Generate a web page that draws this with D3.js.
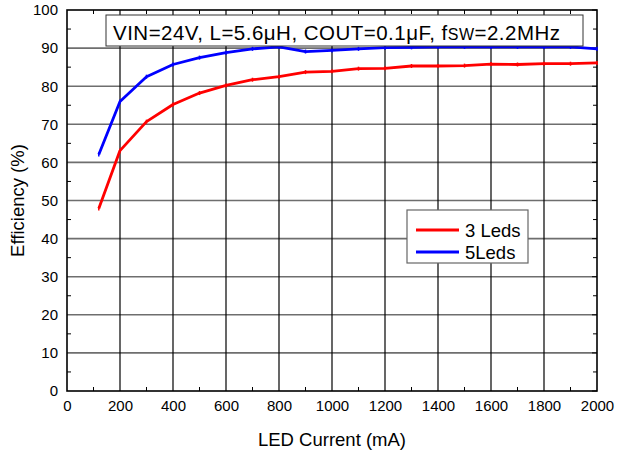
<!DOCTYPE html>
<html>
<head>
<meta charset="utf-8">
<script src="https://cdn.jsdelivr.net/npm/d3@7"></script>
<style>
  body { margin: 0; background: #fff; }
  svg { font-family: Arial, "Liberation Sans", sans-serif; }
</style>
</head>
<body>
<svg id="chart" width="630" height="454"></svg>
<script>
// LED current (mA)
const current = [120, 200, 300, 400, 500, 600, 700, 800, 900, 1000, 1100, 1200, 1300, 1400, 1500, 1600, 1700, 1800, 1900, 2000];
// efficiency (%)
const leds3 = [47.9, 63.1, 70.7, 75.2, 78.2, 80.2, 81.7, 82.5, 83.7, 83.9, 84.6, 84.7, 85.3, 85.3, 85.4, 85.8, 85.7, 85.9, 85.9, 86.1];
const leds5 = [62.1, 76.0, 82.5, 85.7, 87.5, 88.8, 89.8, 90.3, 89.1, 89.4, 89.8, 90.1, 90.2, 90.3, 90.3, 90.3, 90.3, 90.3, 90.3, 89.8];
const xTicks = [0, 200, 400, 600, 800, 1000, 1200, 1400, 1600, 1800, 2000];
const yTicks = [0, 10, 20, 30, 40, 50, 60, 70, 80, 90, 100];

const series = [
  { name: "3 Leds", color: "#ff0000", values: leds3 },
  { name: "5Leds", color: "#0000ff", values: leds5 }
];

const svg = d3.select("#chart");
const pL = 67, pR = 597, pT = 10, pB = 391;
const FONT = "Arial, 'Liberation Sans', sans-serif";

const x = d3.scaleLinear().domain([0, 2000]).range([pL, pR]);
const y = d3.scaleLinear().domain([0, 100]).range([pB, pT]);

// grid
svg.append("g").selectAll("line")
  .data(yTicks.slice(1, -1))
  .join("line")
  .attr("x1", pL).attr("x2", pR)
  .attr("y1", d => y(d)).attr("y2", d => y(d))
  .attr("stroke", "#6e6e6e").attr("stroke-width", 1.6);

svg.append("g").selectAll("line")
  .data(xTicks.slice(1, -1))
  .join("line")
  .attr("y1", pT).attr("y2", pB)
  .attr("x1", d => x(d)).attr("x2", d => x(d))
  .attr("stroke", "#000").attr("stroke-width", 1.2);

// minor ticks on all four sides, pointing inward
const xMinor = d3.range(100, 2000, 200);
const yMinor = d3.range(5, 100, 10);
const tk = svg.append("g").attr("stroke", "#000").attr("stroke-width", 1);
xMinor.forEach(v => {
  tk.append("line").attr("x1", x(v)).attr("x2", x(v)).attr("y1", pB).attr("y2", pB - 4);
  tk.append("line").attr("x1", x(v)).attr("x2", x(v)).attr("y1", pT).attr("y2", pT + 4);
});
yMinor.forEach(v => {
  tk.append("line").attr("y1", y(v)).attr("y2", y(v)).attr("x1", pL).attr("x2", pL + 4);
  tk.append("line").attr("y1", y(v)).attr("y2", y(v)).attr("x1", pR).attr("x2", pR - 4);
});
yTicks.forEach(v => {
  tk.append("line").attr("y1", y(v)).attr("y2", y(v)).attr("x1", pR).attr("x2", pR - 5);
});

// frame
svg.append("rect")
  .attr("x", pL).attr("y", pT)
  .attr("width", pR - pL).attr("height", pB - pT)
  .attr("fill", "none").attr("stroke", "#000").attr("stroke-width", 1.6);

// axis labels
svg.append("g")
  .attr("transform", `translate(0,${pB})`)
  .call(d3.axisBottom(x).tickValues(xTicks).tickFormat(d3.format("d")).tickSize(0).tickPadding(9))
  .call(g => g.select(".domain").remove())
  .selectAll("text").attr("font-size", 15).attr("font-family", FONT).attr("fill", "#000");

svg.append("g")
  .attr("transform", `translate(${pL},0)`)
  .call(d3.axisLeft(y).tickValues(yTicks).tickSize(0).tickPadding(9))
  .call(g => g.select(".domain").remove())
  .selectAll("text").attr("font-size", 15).attr("font-family", FONT).attr("fill", "#000");

svg.append("text")
  .attr("x", 332).attr("y", 446)
  .attr("text-anchor", "middle").attr("font-size", 18.5)
  .text("LED Current (mA)");

svg.append("text")
  .attr("transform", `translate(24,${(pT + pB) / 2}) rotate(-90)`)
  .attr("text-anchor", "middle").attr("font-size", 18.5)
  .text("Efficiency (%)");

// lines
const line = d3.line()
  .x((d, i) => x(current[i]))
  .y(d => y(d));

series.forEach(s => {
  svg.append("path")
    .datum(s.values)
    .attr("d", line)
    .attr("fill", "none")
    .attr("stroke", s.color)
    .attr("stroke-width", 2.8)
    .attr("stroke-linejoin", "round");
  svg.append("g").selectAll("line")
    .data(s.values)
    .join("line")
    .attr("x1", (d, i) => x(current[i])).attr("x2", (d, i) => x(current[i]))
    .attr("y1", d => y(d) - 2).attr("y2", d => y(d) + 2)
    .attr("stroke", s.color).attr("stroke-width", 1.5);
});

// condition box
svg.append("rect")
  .attr("x", 106).attr("y", 15).attr("width", 477).attr("height", 31)
  .attr("fill", "#fff").attr("stroke", "#333").attr("stroke-width", 1);
const t = svg.append("text")
  .attr("x", 113).attr("y", 40).attr("font-size", 20.5)
  .attr("textLength", 447).attr("lengthAdjust", "spacing");
t.append("tspan").text("VIN=24V, L=5.6μH, COUT=0.1μF, f");
t.append("tspan").attr("font-size", 16).text("SW");
t.append("tspan").text("=2.2MHz");

// legend
const lg = svg.append("g");
lg.append("rect")
  .attr("x", 407).attr("y", 210).attr("width", 121).attr("height", 53)
  .attr("fill", "#fff").attr("stroke", "#666").attr("stroke-width", 1.2);
series.forEach((s, i) => {
  const cy = 230 + i * 22;
  lg.append("line")
    .attr("x1", 416).attr("x2", 459).attr("y1", cy).attr("y2", cy)
    .attr("stroke", s.color).attr("stroke-width", 2.8);
  lg.append("text")
    .attr("x", 465).attr("y", cy + 6.5)
    .attr("font-size", 18.5).text(s.name);
});
</script>
</body>
</html>
